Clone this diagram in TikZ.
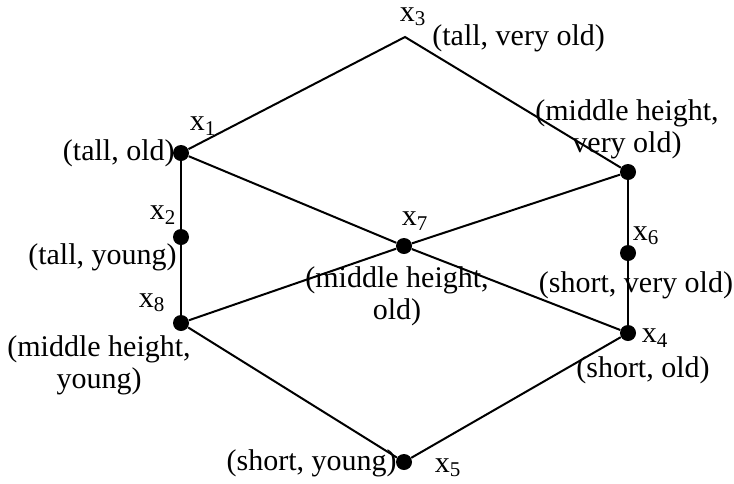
\documentclass[tikz,border=0pt]{standalone}
\usepackage{fontspec}
\setmainfont{Liberation Serif}
\usetikzlibrary{positioning}

\begin{document}
\begin{tikzpicture}[
    x=0.5pt, y=-0.5pt, font=\fontsize{15}{16}\selectfont,
    dot/.style={circle, fill=black, inner sep=0pt, minimum size=8pt},
    lbl/.style={inner sep=0pt, align=center},
    edge/.style={draw=black, line width=1pt}]
  \useasboundingbox (0,0) rectangle (734,483);
  % vertices
  \coordinate (x3) at (405,37);
  \node[dot] (x1) at (181,153) {};
  \node[dot] (x2) at (181,237) {};
  \node[dot] (x8) at (181,323) {};
  \node[dot] (x7) at (404,246) {};
  \node[dot] (mvo) at (628,172) {};
  \node[dot] (x6) at (628,253) {};
  \node[dot] (x4) at (628,333) {};
  \node[dot] (x5) at (404,462) {};
  % edges
  \draw[edge] (x1) -- (x3) -- (mvo);
  \draw[edge] (x1) -- (x2) -- (x8);
  \draw[edge] (x1) -- (x7) -- (x4);
  \draw[edge] (x8) -- (x7) -- (mvo);
  \draw[edge] (mvo) -- (x6) -- (x4);
  \draw[edge] (x8) -- (x5) -- (x4);
  % names
  \node[lbl] (n3) at (413,17) {x\textsubscript{3}};
  \node[lbl] (n1) at (203,126) {x\textsubscript{1}};
  \node[lbl] (n2) at (163,215) {x\textsubscript{2}};
  \node[lbl] (n8) at (152,303) {x\textsubscript{8}};
  \node[lbl] (n7) at (415,221) {x\textsubscript{7}};
  \node[lbl] (n6) at (646,236) {x\textsubscript{6}};
  \node[lbl] (n4) at (655,338) {x\textsubscript{4}};
  \node[lbl] (n5) at (448,468) {x\textsubscript{5}};
  % attribute values
  \node[lbl, anchor=west] (t3) at (432,38) {(tall, very old)};
  \node[lbl, anchor=east] (t1) at (175,153) {(tall, old)};
  \node[lbl, anchor=east] (t2) at (177,257) {(tall, young)};
  \node[lbl] (t8) at (99,365) {(middle height,\\young)};
  \node[lbl] (t7) at (397,296) {(middle height,\\old)};
  \node[lbl] (tmvo) at (627,129) {(middle height,\\very old)};
  \node[lbl] (t6) at (636,285) {(short, very old)};
  \node[lbl] (t4) at (643,370) {(short, old)};
  \node[lbl, anchor=east] (t5) at (397,463) {(short, young)};
\end{tikzpicture}
\end{document}
